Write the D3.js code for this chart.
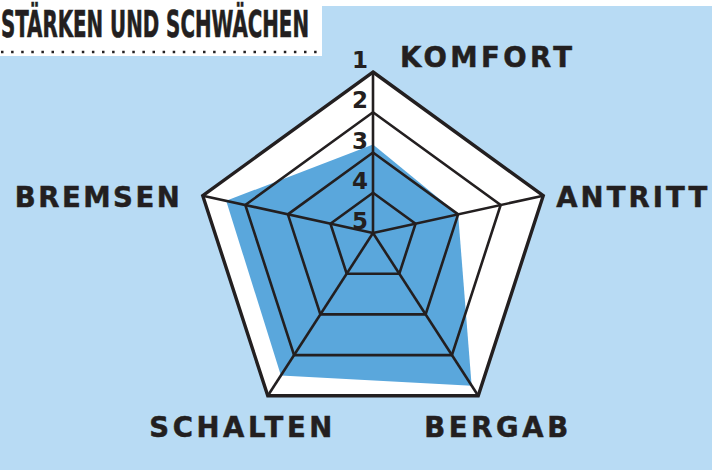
<!DOCTYPE html>
<html>
<head>
<meta charset="utf-8">
<script src="https://cdn.jsdelivr.net/npm/d3@7"></script>
<style>
  html, body { margin: 0; padding: 0; background: #fff; }
  svg { display: block; }
</style>
</head>
<body>
<svg id="chart" width="712" height="470"></svg>
<script>
// data
const title = "STÄRKEN UND SCHWÄCHEN";
const axes = ["KOMFORT", "ANTRITT", "BERGAB", "SCHALTEN", "BREMSEN"];
const scores = [2.8, 3.0, 1.25, 1.5, 1.55];   // 1 = best (outer), 5 = centre
const ticks = [1, 2, 3, 4, 5];

// layout
const svg = d3.select("#chart"),
    width = +svg.attr("width"),
    height = +svg.attr("height");

const ink = "#231f20",
    skyBlue = "#b8dbf4",
    fillBlue = "#5aa7dc";

// the drawn pentagon is regular around (cx, cy) but spokes meet a bit higher
const cx = 373, cy = 251, R = 179;
const ox = 373, oy = 233;

const t = d3.scaleLinear().domain([5, 1]).range([0, 1]);

const angle = i => (-90 + 72 * i) * Math.PI / 180;
const outer = axes.map((d, i) => [cx + R * Math.cos(angle(i)), cy + R * Math.sin(angle(i))]);
const pt = (i, v) => [ox + t(v) * (outer[i][0] - ox), oy + t(v) * (outer[i][1] - oy)];

const line = d3.line().curve(d3.curveLinearClosed);

// background
svg.append("rect").attr("width", width).attr("height", height).attr("fill", "#fff");
svg.append("rect").attr("y", 6).attr("width", width).attr("height", height - 6).attr("fill", skyBlue);

// title box
svg.append("rect").attr("x", 0).attr("y", 0).attr("width", 322).attr("height", 56).attr("fill", "#fff");
svg.append("text")
    .attr("x", 1).attr("y", 36.5)
    .attr("font-family", "'DejaVu Sans Condensed', 'Liberation Sans Narrow', sans-serif")
    .attr("font-weight", "bold")
    .attr("font-size", 37)
    .attr("textLength", 308)
    .attr("lengthAdjust", "spacingAndGlyphs")
    .attr("fill", ink)
    .attr("stroke", ink).attr("stroke-width", 0.6)
    .text(title);
svg.append("line")
    .attr("x1", 1).attr("x2", 322).attr("y1", 52).attr("y2", 52)
    .attr("stroke", ink).attr("stroke-width", 2.5)
    .attr("stroke-dasharray", "2.5 7.6");

// white outer pentagon
svg.append("path")
    .attr("d", line(axes.map((d, i) => pt(i, 1))))
    .attr("fill", "#fff");

// scores
svg.append("path")
    .attr("d", line(scores.map((v, i) => pt(i, v))))
    .attr("fill", fillBlue);

// rings
const g = svg.append("g").attr("fill", "none").attr("stroke", ink).attr("stroke-linejoin", "miter");
g.selectAll("path.ring")
  .data(ticks.filter(v => v < 5))
  .enter().append("path")
    .attr("class", "ring")
    .attr("d", v => line(axes.map((d, i) => pt(i, v))))
    .attr("stroke-width", v => v === 1 ? 3.4 : 2.6);

g.selectAll("line.spoke")
  .data(axes)
  .enter().append("line")
    .attr("class", "spoke")
    .attr("x1", ox).attr("y1", oy)
    .attr("x2", (d, i) => outer[i][0])
    .attr("y2", (d, i) => outer[i][1])
    .attr("stroke-width", 2.6);

// tick numbers along the top spoke
svg.selectAll("text.tick")
  .data(ticks)
  .enter().append("text")
    .attr("class", "tick")
    .attr("x", 368)
    .attr("y", v => pt(0, v)[1] - 4)
    .attr("text-anchor", "end")
    .attr("font-family", "'DejaVu Sans', sans-serif")
    .attr("font-weight", "bold")
    .attr("font-size", 23)
    .attr("fill", ink)
    .text(v => v);

// axis labels
const labelPos = [
    { dx: 27, dy: -5, anchor: "start", len: 172 },
    { dx: 13, dy: 11, anchor: "start", len: 151 },
    { dx: 18, dy: 41, anchor: "middle", len: 144 },
    { dx: -27, dy: 41, anchor: "middle", len: 183 },
    { dx: -23, dy: 11, anchor: "end", len: 165 }
];

svg.selectAll("text.axis")
  .data(axes)
  .enter().append("text")
    .attr("class", "axis")
    .attr("x", (d, i) => outer[i][0] + labelPos[i].dx)
    .attr("y", (d, i) => outer[i][1] + labelPos[i].dy)
    .attr("text-anchor", (d, i) => labelPos[i].anchor)
    .attr("textLength", (d, i) => labelPos[i].len)
    .attr("lengthAdjust", "spacing")
    .attr("font-family", "'DejaVu Sans', sans-serif")
    .attr("font-weight", "bold")
    .attr("font-size", 27.5)
    .attr("fill", ink)
    .attr("stroke", ink).attr("stroke-width", 0.5)
    .text(d => d);
</script>
</body>
</html>
